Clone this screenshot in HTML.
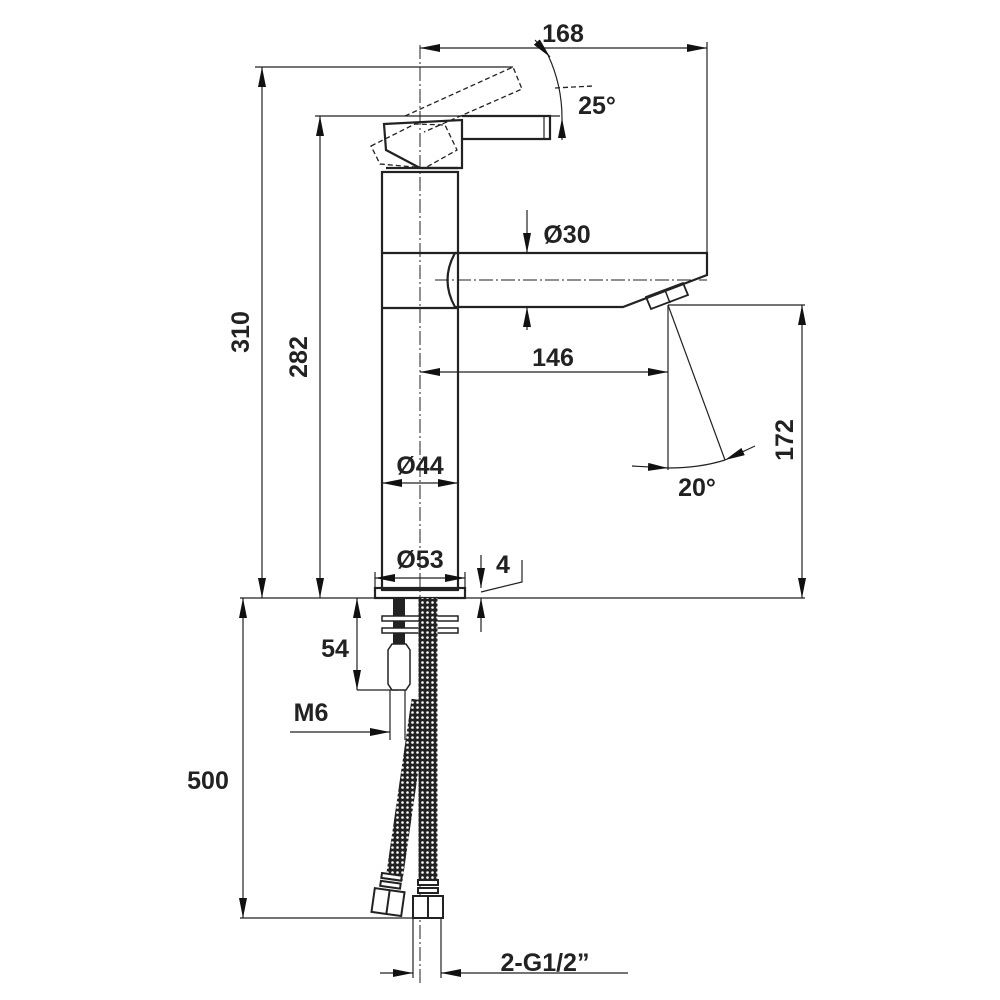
<!DOCTYPE html>
<html><head><meta charset="utf-8"><style>html,body{margin:0;padding:0;background:#fff}svg{display:block}</style></head>
<body>
<svg width="1000" height="1000" viewBox="0 0 1000 1000" xmlns="http://www.w3.org/2000/svg" font-family="Liberation Sans, sans-serif" font-weight="bold" font-size="25" fill="#222">
<defs>
<pattern id="mesh" width="5" height="5" patternUnits="userSpaceOnUse">
<rect width="5" height="5" fill="#222"/><circle cx="2.5" cy="2.5" r="1.3" fill="#fff"/>
</pattern>
<marker id="a" viewBox="0 0 20 8" refX="20" refY="4" markerWidth="20" markerHeight="8" markerUnits="userSpaceOnUse" orient="auto-start-reverse"><path d="M0,0 L20,4 L0,8 z" fill="#111"/></marker>
</defs>
<g stroke="#222" fill="none">
<line x1="420" y1="45" x2="420" y2="985" stroke-width="1" stroke-dasharray="14 3 2 3"/>
<line x1="435" y1="280" x2="707" y2="280" stroke-width="1" stroke-dasharray="14 3 2 3"/>
<g stroke-width="2.2">
<rect x="382" y="172" width="76" height="418"/>
<line x1="382" y1="253" x2="458" y2="253"/>
<line x1="382" y1="308" x2="458" y2="308"/>
<rect x="375" y="588" width="90" height="10"/>
<path d="M384,124 L462,120 L462,168 L420,168 L386,150 Z"/>
<path d="M462,116 L550,116 L550,139 L462,139"/>
<line x1="544" y1="116" x2="544" y2="139" stroke-width="1.2"/>
<line x1="386" y1="168" x2="458" y2="168"/>
<path d="M455,253 L707,253 L707,275 L623,307 L455,307 Q440,280 455,253"/>
<path d="M646,297 L683,283 L688,295 L651,309 Z" stroke-width="1.8"/>
<line x1="665" y1="290" x2="670" y2="303" stroke-width="1.5"/>
</g>
<g stroke-width="1.3" stroke-dasharray="5 3">
<path d="M405,116 L513,67 L522,89 L424,132"/>
<path d="M371,146 L415,124 L445,125 L457,150 L425,168 L380,164 Z"/>
<line x1="555" y1="88" x2="593" y2="86"/>
</g>
<g stroke-width="1.2">
<line x1="255" y1="67" x2="513" y2="67"/>
<line x1="315" y1="116" x2="560" y2="116"/>
<line x1="707" y1="42" x2="707" y2="253"/>
<line x1="240" y1="598" x2="805" y2="598"/>
<line x1="668" y1="305" x2="805" y2="305"/>
<line x1="668" y1="305" x2="668" y2="470"/>
<line x1="668" y1="305" x2="725" y2="460"/>
<path d="M668,468 Q700,468 725,460"/>
<line x1="240" y1="918" x2="430" y2="918"/>
<line x1="357" y1="690" x2="398" y2="690"/>
<line x1="390" y1="690" x2="390" y2="740"/>
<line x1="405" y1="690" x2="405" y2="740"/>
<line x1="413" y1="918" x2="413" y2="978"/>
<line x1="441" y1="918" x2="441" y2="978"/>
<line x1="375" y1="572" x2="375" y2="598"/>
<line x1="465" y1="572" x2="465" y2="598"/>
<polyline points="481,592 522,582 522,560"/>
<line x1="420" y1="48" x2="707" y2="48" marker-start="url(#a)" marker-end="url(#a)"/>
<line x1="262" y1="67" x2="262" y2="598" marker-start="url(#a)" marker-end="url(#a)"/>
<line x1="320" y1="116" x2="320" y2="598" marker-start="url(#a)" marker-end="url(#a)"/>
<line x1="420" y1="372" x2="668" y2="372" marker-start="url(#a)" marker-end="url(#a)"/>
<line x1="802" y1="305" x2="802" y2="598" marker-start="url(#a)" marker-end="url(#a)"/>
<line x1="243" y1="598" x2="243" y2="918" marker-start="url(#a)" marker-end="url(#a)"/>
<line x1="357" y1="598" x2="357" y2="690" marker-start="url(#a)" marker-end="url(#a)"/>
<line x1="382" y1="483" x2="458" y2="483" marker-start="url(#a)" marker-end="url(#a)"/>
<line x1="375" y1="578" x2="465" y2="578" marker-start="url(#a)" marker-end="url(#a)"/>
<line x1="527" y1="210" x2="527" y2="253" marker-end="url(#a)"/>
<line x1="527" y1="330" x2="527" y2="307" marker-end="url(#a)"/>
<line x1="481" y1="555" x2="481" y2="588" marker-end="url(#a)"/>
<line x1="481" y1="632" x2="481" y2="598" marker-end="url(#a)"/>
<line x1="290" y1="732" x2="390" y2="732" marker-end="url(#a)"/>
<line x1="380" y1="973" x2="413" y2="973" marker-end="url(#a)"/>
<line x1="628" y1="973" x2="441" y2="973" marker-end="url(#a)"/>
<path d="M548,55 Q562,85 562,118"/>
<line x1="562" y1="140" x2="562" y2="118" marker-end="url(#a)"/>
<line x1="535" y1="40" x2="550" y2="57" marker-end="url(#a)"/>
<line x1="632" y1="466" x2="668" y2="468" marker-end="url(#a)"/>
<line x1="755" y1="446" x2="725" y2="460" marker-end="url(#a)"/>
</g>
<rect x="393" y="598" width="12" height="92" fill="#222" stroke="none"/>
<g stroke-width="1.5">
<rect x="382" y="616" width="76" height="5" fill="#fff"/>
<rect x="382" y="628" width="76" height="5" fill="#fff"/>
<path d="M388,650 L392,644 L406,644 L410,650 L410,684 L406,690 L392,690 L388,684 Z" fill="#fff"/>
</g>
<line x1="420" y1="700" x2="394" y2="880" stroke="url(#mesh)" stroke-width="17"/>
<line x1="428" y1="598" x2="428" y2="882" stroke="url(#mesh)" stroke-width="19"/>
<g stroke-width="2" fill="#fff">
<g transform="rotate(8 388 895)">
<rect x="379" y="874" width="20" height="5"/><rect x="379" y="882" width="20" height="5"/>
<rect x="374" y="890" width="30" height="24"/><line x1="389" y1="890" x2="389" y2="914"/>
</g>
<rect x="418" y="880" width="20" height="5"/><rect x="418" y="888" width="20" height="5"/>
<rect x="413" y="896" width="30" height="22"/><line x1="428" y1="896" x2="428" y2="918"/>
</g>
</g>
<text x="563" y="42" text-anchor="middle">168</text>
<text x="597" y="114" text-anchor="middle">25°</text>
<text x="567" y="243" text-anchor="middle">Ø30</text>
<text x="553" y="366" text-anchor="middle">146</text>
<text x="420" y="474" text-anchor="middle">Ø44</text>
<text x="420" y="568" text-anchor="middle">Ø53</text>
<text x="503" y="573" text-anchor="middle">4</text>
<text x="697" y="496" text-anchor="middle">20°</text>
<text x="335" y="657" text-anchor="middle">54</text>
<text x="311" y="721" text-anchor="middle">M6</text>
<text x="208" y="789" text-anchor="middle">500</text>
<text x="545" y="971" text-anchor="middle">2-G1/2”</text>
<text transform="translate(249,332) rotate(-90)" text-anchor="middle">310</text>
<text transform="translate(307,357) rotate(-90)" text-anchor="middle">282</text>
<text transform="translate(793,440) rotate(-90)" text-anchor="middle">172</text>
</svg>
</body></html>
